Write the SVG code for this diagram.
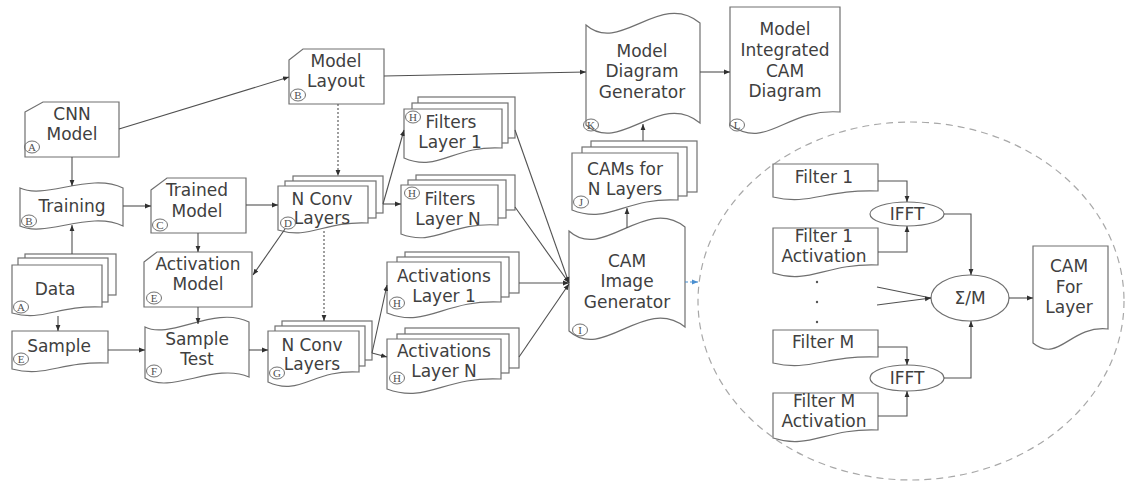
<svg xmlns="http://www.w3.org/2000/svg" width="1126" height="484" viewBox="0 0 1126 484">
<style>
.s{fill:#fff;stroke:#707070;stroke-width:1.2}
.t{font-family:"DejaVu Sans",sans-serif;font-size:17px;fill:#404040;text-anchor:middle}
.c{fill:none;stroke:#707070;stroke-width:1}
.cl{font-family:"Liberation Serif",serif;font-size:11px;fill:#505050;text-anchor:middle}
.ln{fill:none;stroke:#505050;stroke-width:1.1}
.dt{stroke-dasharray:2 2}
</style>
<defs>
<marker id="ar" viewBox="0 0 10 10" refX="10" refY="5" markerWidth="6" markerHeight="6" markerUnits="userSpaceOnUse" orient="auto">
<path d="M0,1 L10,5 L0,9 z" fill="#303030"/>
</marker>
<marker id="arb" viewBox="0 0 10 10" refX="10" refY="5" markerWidth="6" markerHeight="6" markerUnits="userSpaceOnUse" orient="auto">
<path d="M0,1 L10,5 L0,9 z" fill="#4a8fd0"/>
</marker>
</defs>
<rect width="1126" height="484" fill="#fff"/>

<ellipse id="zoom-circle" cx="911" cy="301" rx="213" ry="179" fill="none" stroke="#a8a8a8" stroke-width="1.2" stroke-dasharray="7 5"/>

<g id="cnn-model">
<path class="s" d="M25,112 L43,102 H119 V157 H25 Z"/>
<text class="t" x="72" y="120">CNN</text><text class="t" x="72" y="140">Model</text>
<ellipse class="c" cx="32" cy="147" rx="7.5" ry="6"/><text class="cl" x="32" y="151">A</text>
</g>

<g id="model-layout">
<path class="s" d="M289,60 L303,49 H384 V104 H289 Z"/>
<text class="t" x="336" y="67">Model</text><text class="t" x="336" y="87">Layout</text>
<ellipse class="c" cx="298" cy="95" rx="7.5" ry="6"/><text class="cl" x="298" y="99">B</text>
</g>

<g id="training">
<path class="s" d="M20,188 C45,200 90,172 123,188 V226 C90,210 45,238 20,226 Z"/>
<text class="t" x="72" y="212">Training</text>
<ellipse class="c" cx="29" cy="221" rx="7.5" ry="6"/><text class="cl" x="29" y="225">B</text>
</g>

<g id="data">
<rect class="s" x="25" y="254" width="91" height="41"/>
<rect class="s" x="18" y="258" width="90" height="44"/>
<path class="s" d="M12,265 H102 V307 C57,305 43,322 12,313 Z"/>
<text class="t" x="55" y="295">Data</text>
<ellipse class="c" cx="21" cy="307" rx="7.5" ry="6"/><text class="cl" x="21" y="311">A</text>
</g>

<g id="sample">
<path class="s" d="M12,331 H108 V363 C60,361 46,378 12,369 Z"/>
<text class="t" x="59" y="352">Sample</text>
<ellipse class="c" cx="21" cy="359" rx="7.5" ry="6"/><text class="cl" x="21" y="363">E</text>
</g>

<g id="trained-model">
<path class="s" d="M151,190 L167,178 H246 V233 H151 Z"/>
<text class="t" x="197" y="196">Trained</text><text class="t" x="197" y="217">Model</text>
<ellipse class="c" cx="160" cy="225" rx="7.5" ry="6"/><text class="cl" x="160" y="229">C</text>
</g>

<g id="activation-model">
<path class="s" d="M144,262 L157,252 H252 V307 H144 Z"/>
<text class="t" x="198" y="270">Activation</text><text class="t" x="198" y="290">Model</text>
<ellipse class="c" cx="154" cy="298" rx="7.5" ry="6"/><text class="cl" x="154" y="302">E</text>
</g>

<g id="sample-test">
<path class="s" d="M145,327 C170,340 215,305 249,322 V377 C215,362 170,395 145,378 Z"/>
<text class="t" x="197" y="345">Sample</text><text class="t" x="197" y="365">Test</text>
<ellipse class="c" cx="154" cy="371" rx="7.5" ry="6"/><text class="cl" x="154" y="375">F</text>
</g>

<g id="n-conv-layers-d">
<rect class="s" x="293" y="176" width="90" height="37"/>
<rect class="s" x="285" y="181" width="91" height="37"/>
<path class="s" d="M278,186 H368 V223 C323,221 310,240 278,230 Z"/>
<text class="t" x="322" y="205">N Conv</text><text class="t" x="322" y="224">Layers</text>
<ellipse class="c" cx="288" cy="223" rx="7.5" ry="6"/><text class="cl" x="288" y="227">D</text>
</g>

<g id="n-conv-layers-g">
<rect class="s" x="282" y="321" width="90" height="39"/>
<rect class="s" x="275" y="326" width="90" height="40"/>
<path class="s" d="M268,331 H359 V372 C313,369 300,397 268,382 Z"/>
<text class="t" x="312" y="351">N Conv</text><text class="t" x="312" y="370">Layers</text>
<ellipse class="c" cx="277" cy="373" rx="7.5" ry="6"/><text class="cl" x="277" y="377">G</text>
</g>

<g id="filters-layer-1">
<rect class="s" x="418" y="97" width="97" height="41"/>
<rect class="s" x="412" y="103" width="96" height="40"/>
<path class="s" d="M404,109 H502 V148 C453,145 438,173 404,158 Z"/>
<text class="t" x="451" y="128">Filters</text><text class="t" x="450" y="148">Layer 1</text>
<ellipse class="c" cx="413" cy="117" rx="7.5" ry="6"/><text class="cl" x="413" y="121">H</text>
</g>

<g id="filters-layer-n">
<rect class="s" x="416" y="175" width="99" height="35"/>
<rect class="s" x="408" y="180" width="98" height="38"/>
<path class="s" d="M401,185 H498 V225 C449,222 435,247 401,234 Z"/>
<text class="t" x="450" y="205">Filters</text><text class="t" x="448" y="225">Layer N</text>
<ellipse class="c" cx="412" cy="193" rx="7.5" ry="6"/><text class="cl" x="412" y="197">H</text>
</g>

<g id="activations-layer-1">
<rect class="s" x="405" y="252" width="114" height="41"/>
<rect class="s" x="397" y="257" width="112" height="40"/>
<path class="s" d="M387,262 H501 V302 C444,299 427,329 387,313 Z"/>
<text class="t" x="444" y="282">Activations</text><text class="t" x="444" y="302">Layer 1</text>
<ellipse class="c" cx="397" cy="303" rx="7.5" ry="6"/><text class="cl" x="397" y="307">H</text>
</g>

<g id="activations-layer-n">
<rect class="s" x="405" y="328" width="114" height="40"/>
<rect class="s" x="397" y="334" width="112" height="39"/>
<path class="s" d="M387,339 H501 V379 C444,376 427,404 387,389 Z"/>
<text class="t" x="444" y="357">Activations</text><text class="t" x="444" y="377">Layer N</text>
<ellipse class="c" cx="397" cy="378" rx="7.5" ry="6"/><text class="cl" x="397" y="382">H</text>
</g>

<g id="cam-image-generator">
<path class="s" d="M569,231 C603,262 645,195 685,227 V327 C645,295 603,362 569,331 Z"/>
<text class="t" x="627" y="267">CAM</text><text class="t" x="627" y="287">Image</text><text class="t" x="627" y="308">Generator</text>
<ellipse class="c" cx="580" cy="330" rx="7.5" ry="6"/><text class="cl" x="580" y="334">I</text>
</g>

<g id="cams-for-n-layers">
<rect class="s" x="591" y="141" width="106" height="51"/>
<rect class="s" x="582" y="147" width="105" height="49"/>
<path class="s" d="M572,153 H678 V200 C625,197 609,225 572,210 Z"/>
<text class="t" x="625" y="175">CAMs for</text><text class="t" x="625" y="195">N Layers</text>
<ellipse class="c" cx="581" cy="202" rx="7.5" ry="6"/><text class="cl" x="581" y="206">J</text>
</g>

<g id="model-diagram-generator">
<path class="s" d="M586,25 C620,55 660,-10 700,23 V123 C660,90 620,155 586,125 Z"/>
<text class="t" x="642" y="57">Model</text><text class="t" x="642" y="77">Diagram</text><text class="t" x="642" y="98">Generator</text>
<ellipse class="c" cx="591" cy="125" rx="7.5" ry="6"/><text class="cl" x="591" y="129">K</text>
</g>

<g id="model-integrated-cam-diagram">
<path class="s" d="M730,7 H840 V112 C785,108 768,151 730,125 Z"/>
<text class="t" x="785" y="35">Model</text><text class="t" x="785" y="56">Integrated</text><text class="t" x="785" y="77">CAM</text><text class="t" x="785" y="97">Diagram</text>
<ellipse class="c" cx="737" cy="125" rx="7.5" ry="6"/><text class="cl" x="737" y="129">L</text>
</g>

<g id="filter-1">
<path class="s" d="M773,164 H878 V191 C825,189 810,206 773,197 Z"/>
<text class="t" x="824" y="183">Filter 1</text>
</g>
<g id="filter-1-activation">
<path class="s" d="M773,228 H878 V265 C825,263 810,285 773,273 Z"/>
<text class="t" x="824" y="242">Filter 1</text><text class="t" x="824" y="262">Activation</text>
</g>
<g id="ifft-1">
<ellipse class="s" cx="907" cy="214" rx="37" ry="12"/>
<text class="t" x="907" y="220">IFFT</text>
</g>
<g id="dots">
<circle cx="817" cy="282" r="1.2" fill="#555"/><circle cx="817" cy="302" r="1.2" fill="#555"/><circle cx="817" cy="322" r="1.2" fill="#555"/>
</g>
<g id="filter-m">
<path class="s" d="M773,330 H878 V357 C825,355 810,372 773,363 Z"/>
<text class="t" x="823" y="348">Filter M</text>
</g>
<g id="filter-m-activation">
<path class="s" d="M773,393 H878 V430 C825,428 810,450 773,438 Z"/>
<text class="t" x="824" y="407">Filter M</text><text class="t" x="824" y="427">Activation</text>
</g>
<g id="ifft-2">
<ellipse class="s" cx="907" cy="378" rx="37" ry="13"/>
<text class="t" x="907" y="384">IFFT</text>
</g>
<g id="sum-m">
<ellipse class="s" cx="970" cy="298" rx="39" ry="23"/>
<text class="t" x="970" y="304">Σ/M</text>
</g>
<g id="cam-for-layer">
<path class="s" d="M1033,246 H1108 V329 C1070,325 1059,364 1033,343 Z"/>
<text class="t" x="1069" y="272">CAM</text><text class="t" x="1069" y="293">For</text><text class="t" x="1069" y="313">Layer</text>
</g>

<g id="connectors" class="ln">
<path d="M72,157 V186" marker-end="url(#ar)"/>
<path d="M72,254 V225" marker-end="url(#ar)"/>
<path d="M123,206 H151" marker-end="url(#ar)"/>
<path d="M198,233 V252" marker-end="url(#ar)"/>
<path d="M246,205 H278" marker-end="url(#ar)"/>
<path d="M58,316 V331" marker-end="url(#ar)"/>
<path d="M108,350 H145" marker-end="url(#ar)"/>
<path d="M198,307 V324" marker-end="url(#ar)"/>
<path d="M249,350 H268" marker-end="url(#ar)"/>
<path class="dt" d="M338,104 V176" marker-end="url(#ar)"/>
<path class="dt" d="M324,231 V321" marker-end="url(#ar)"/>
<path d="M285,229 L253,275" marker-end="url(#ar)"/>
<path d="M383,204 L404,130" marker-end="url(#ar)"/>
<path d="M383,204 H401" marker-end="url(#ar)"/>
<path d="M372,353 L387,285" marker-end="url(#ar)"/>
<path d="M372,353 L387,357" marker-end="url(#ar)"/>
<path d="M119,129 L289,77" marker-end="url(#ar)"/>
<path d="M384,76 L586,72" marker-end="url(#ar)"/>
<path d="M515,130 L569,283" marker-end="url(#ar)"/>
<path d="M515,207 L569,283" marker-end="url(#ar)"/>
<path d="M519,283 H569" marker-end="url(#ar)"/>
<path d="M519,357 L569,284" marker-end="url(#ar)"/>
<path d="M627,228 V208" marker-end="url(#ar)"/>
<path d="M643,141 V124" marker-end="url(#ar)"/>
<path d="M700,72 H730" marker-end="url(#ar)"/>
<path d="M685,282 H698" stroke="#4a8fd0" stroke-dasharray="3 2" marker-end="url(#arb)"/>
<path d="M878,181 H907 V202" marker-end="url(#ar)"/>
<path d="M878,252 H907 V226" marker-end="url(#ar)"/>
<path d="M944,214 H971 V275" marker-end="url(#ar)"/>
<path d="M878,347 H907 V365" marker-end="url(#ar)"/>
<path d="M878,416 H907 V391" marker-end="url(#ar)"/>
<path d="M944,378 H971 V321" marker-end="url(#ar)"/>
<path d="M877,287 L931,298"/>
<path d="M877,305 L931,298" marker-end="url(#ar)"/>
<path d="M1009,298 H1033" marker-end="url(#ar)"/>
</g>
</svg>
